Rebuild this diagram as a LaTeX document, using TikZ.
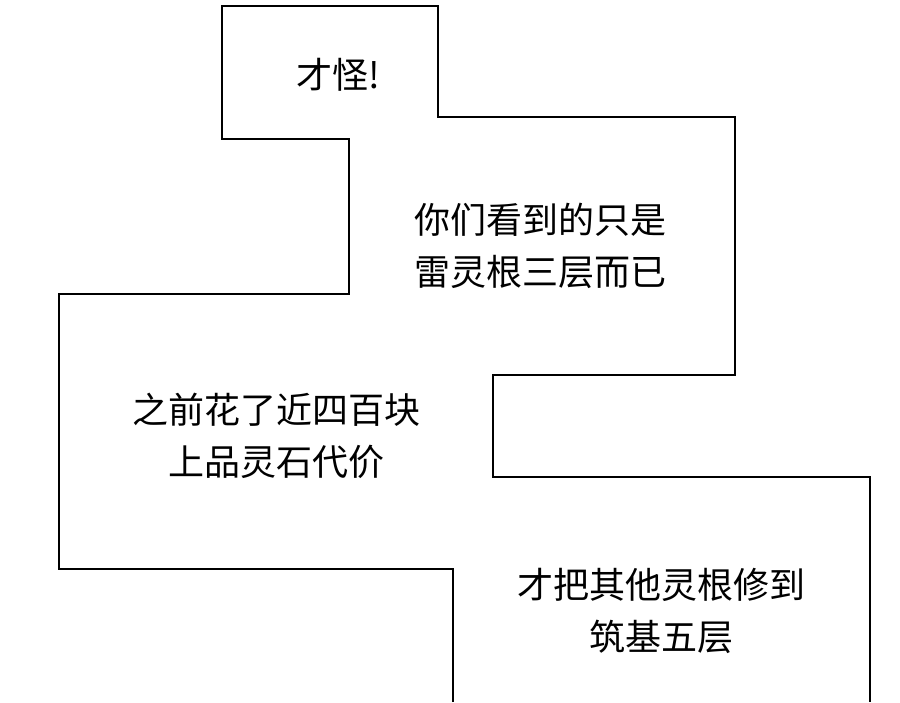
\documentclass[tikz,border=0pt]{standalone}
\usepackage{fontspec}
\newfontfamily\cjk{Noto Sans CJK SC}
\begin{document}
\begin{tikzpicture}[x=1pt,y=-1pt,
  txt/.style={font=\cjk\fontsize{36}{52}\selectfont,align=center,inner sep=0pt},
  outline/.style={line width=2pt,black}]
\useasboundingbox[fill=white] (0,0) rectangle (900,702);
\draw[outline] (453,702) -- (453,569) -- (59,569) -- (59,294) -- (349,294) -- (349,139) -- (222,139) -- (222,6) -- (438,6) -- (438,117) -- (735,117) -- (735,375) -- (493,375) -- (493,477) -- (870,477) -- (870,702);
\node[txt] (a) at (338,75) {才怪!};
\node[txt] (b) at (540,246) {你们看到的只是\\雷灵根三层而已};
\node[txt] (c) at (276,436) {之前花了近四百块\\上品灵石代价};
\node[txt] (d) at (661,611) {才把其他灵根修到\\筑基五层};
\end{tikzpicture}
\end{document}
